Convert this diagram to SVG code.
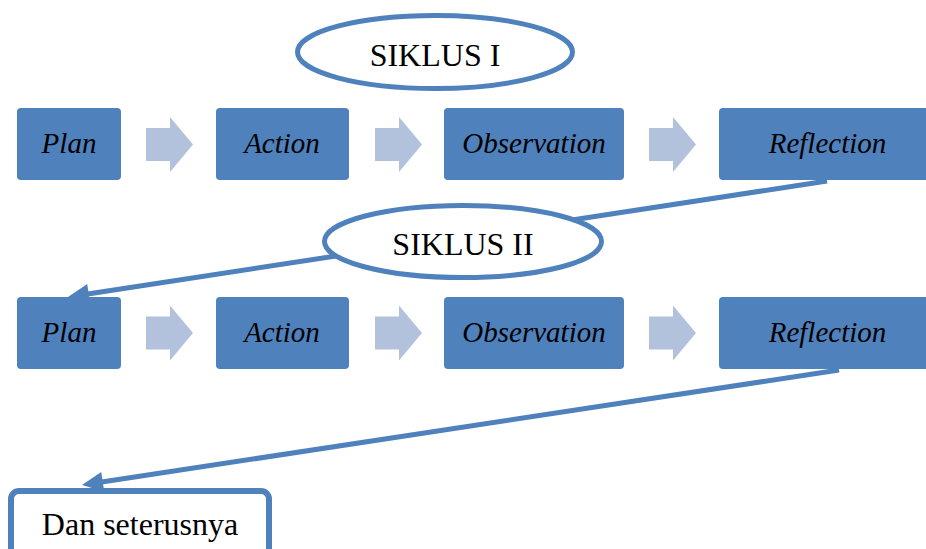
<svg xmlns="http://www.w3.org/2000/svg" xmlns:xlink="http://www.w3.org/1999/xlink" width="926" height="549" viewBox="0 0 926 549">
<style>
.box{fill:#4f81bd;}
.step{font-family:"Liberation Serif","Times New Roman",serif;font-style:italic;font-size:29px;fill:#000;text-anchor:middle;}
.lbl{font-family:"Liberation Serif","Times New Roman",serif;font-size:32px;fill:#000;text-anchor:middle;}
.oval{fill:#fff;stroke:#4f81bd;stroke-width:5;}
.conn{fill:none;stroke:#4f81bd;stroke-width:5;stroke-linecap:butt;}
.fat{fill:#b3c2dc;}
</style>
<defs>
<path id="fatarrow" d="M0,-16.5 L24,-16.5 L24,-27.5 L47,0 L24,27.5 L24,16.5 L0,16.5 Z"/>
<marker id="head" markerUnits="userSpaceOnUse" orient="auto" refX="0" refY="0" markerWidth="40" markerHeight="40" overflow="visible">
<path d="M15,0 L-6,-10 L-6,10 Z" fill="#4f81bd"/>
</marker>
</defs>
<rect width="926" height="549" fill="#fff"/>
<g id="connectors">
<line class="conn" x1="827" y1="181" x2="82.8" y2="294.7" marker-end="url(#head)"/>
<line class="conn" x1="839" y1="370" x2="96.8" y2="482.75" marker-end="url(#head)"/>
</g>
<g id="flow-arrows">
<use xlink:href="#fatarrow" class="fat" transform="translate(146,144.5)"/>
<use xlink:href="#fatarrow" class="fat" transform="translate(375,144.5)"/>
<use xlink:href="#fatarrow" class="fat" transform="translate(649,144.5)"/>
<use xlink:href="#fatarrow" class="fat" transform="translate(146,333)"/>
<use xlink:href="#fatarrow" class="fat" transform="translate(375,333)"/>
<use xlink:href="#fatarrow" class="fat" transform="translate(649,333)"/>
</g>
<g id="siklus1"><ellipse class="oval" cx="435" cy="52" rx="137.5" ry="36.5"/><text class="lbl" x="435" y="66">SIKLUS I</text></g>
<g id="plan1"><rect class="box" x="17" y="108" width="104" height="72" rx="4"/><text class="step" x="69" y="153">Plan</text></g>
<g id="action1"><rect class="box" x="216" y="108" width="133" height="72" rx="4"/><text class="step" x="282" y="153">Action</text></g>
<g id="observation1"><rect class="box" x="444" y="108" width="180" height="72" rx="4"/><text class="step" x="534" y="153">Observation</text></g>
<g id="reflection1"><rect class="box" x="719" y="108" width="217" height="72" rx="4"/><text class="step" x="827.5" y="153">Reflection</text></g>
<g id="siklus2"><ellipse class="oval" cx="463" cy="241.5" rx="138.5" ry="36"/><text class="lbl" x="463" y="255">SIKLUS II</text></g>
<g id="plan2"><rect class="box" x="17" y="297" width="104" height="72" rx="4"/><text class="step" x="69" y="342">Plan</text></g>
<g id="action2"><rect class="box" x="216" y="297" width="133" height="72" rx="4"/><text class="step" x="282" y="342">Action</text></g>
<g id="observation2"><rect class="box" x="444" y="297" width="180" height="72" rx="4"/><text class="step" x="534" y="342">Observation</text></g>
<g id="reflection2"><rect class="box" x="719" y="297" width="217" height="72" rx="4"/><text class="step" x="827.5" y="342">Reflection</text></g>
<g id="dan-seterusnya"><rect x="11" y="491" width="258" height="80" rx="8" fill="#fff" stroke="#4f81bd" stroke-width="6"/><text class="lbl" x="140" y="535">Dan seterusnya</text></g>
</svg>
